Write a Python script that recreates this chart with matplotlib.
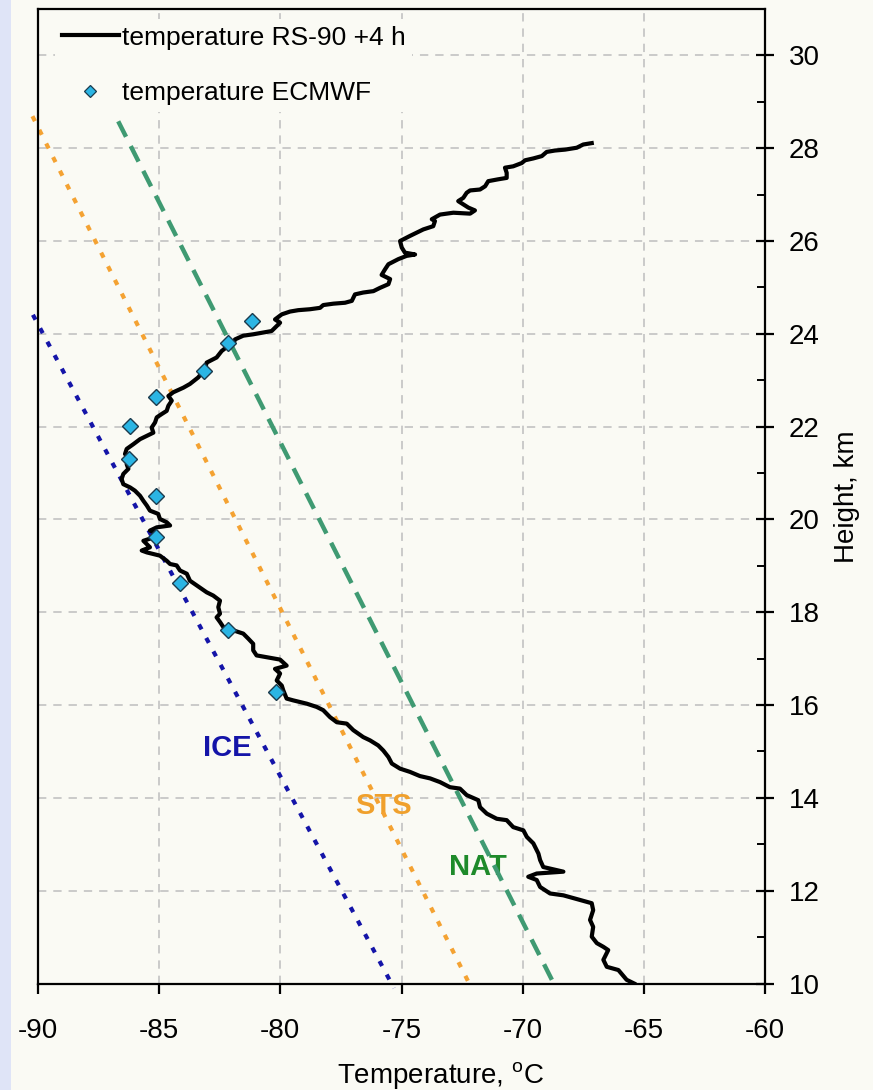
import matplotlib
matplotlib.use("Agg")
import matplotlib.pyplot as plt
from matplotlib.ticker import MultipleLocator
from matplotlib.lines import Line2D
from matplotlib.patches import Rectangle

plt.rcParams['font.family'] = ['Liberation Sans', 'DejaVu Sans']
plt.rcParams['mathtext.default'] = 'regular'
plt.rcParams['lines.scale_dashes'] = False
plt.rcParams['axes.unicode_minus'] = False

# RS-90 radiosonde profile (launch +4 h): temperature in degC, height in km
rs90_temp = [
    -65.40, -65.71, -66.05, -66.53, -66.67, -66.47, -66.67, -66.94, -67.15, -67.09,
    -67.22, -67.09, -67.15, -67.63, -68.32, -68.87, -69.28, -69.42, -69.77, -69.42,
    -68.32, -69.15, -69.28, -69.35, -69.56, -69.83, -69.97, -70.39, -70.66, -71.07,
    -71.48, -71.76, -71.83, -72.31, -72.59, -73.00, -73.41, -73.82, -74.24, -74.65,
    -75.06, -75.40, -75.54, -75.75, -75.96, -76.30, -76.58, -76.99, -77.26, -77.67,
    -77.95, -78.23, -78.50, -78.91, -79.46, -79.74, -79.88, -79.94, -80.15,
    -80.01, -80.22, -79.74, -80.01, -80.56, -80.98, -81.12, -81.12, -81.32, -81.53,
    -81.94, -82.35, -82.49, -82.63, -82.49, -82.56, -82.49, -82.77, -83.04, -83.45,
    -83.73, -83.86, -84.14, -84.28, -84.55, -84.69, -84.97, -85.51, -85.72, -85.38,
    -85.65, -85.24, -85.04, -85.38, -85.10, -84.55, -84.69, -84.97, -85.04, -85.38,
    -85.51, -85.65, -85.79, -86.00, -86.20, -86.48, -86.55, -86.48, -86.27, -86.34,
    -86.20, -86.41, -86.34, -86.07, -85.79, -85.51, -85.24, -85.31, -85.17, -85.10,
    -84.90, -84.69, -84.62, -84.48,
    -84.62, -84.42, -84.00, -83.73, -83.39, -83.11, -83.04, -82.63, -82.42, -82.15,
    -81.94, -81.87, -81.53, -81.12, -80.70, -80.36, -80.15, -80.01, -80.22, -79.94,
    -79.60, -79.26, -78.78, -78.36, -78.23, -77.81, -77.33, -77.05, -76.92, -76.58,
    -76.16, -75.89, -75.54, -75.47, -75.82, -75.68, -75.54, -75.13, -74.79, -74.44,
    -74.86, -74.99, -75.06, -74.65, -74.37, -74.10, -73.69, -73.62, -73.75, -73.41,
    -72.86, -72.17, -71.97, -72.24, -72.45, -72.66, -72.45, -72.31, -72.17, -71.76,
    -71.55, -71.42, -71.01, -70.66, -70.66, -70.73, -70.39, -70.04, -69.90, -69.56,
    -69.21, -69.01, -68.67, -68.25, -67.77, -67.50, -67.15,
]
rs90_height = [
    10.00, 10.08, 10.29, 10.36, 10.51, 10.72, 10.79, 10.87, 11.01, 11.22,
    11.37, 11.58, 11.73, 11.80, 11.90, 11.94, 12.08, 12.23, 12.30, 12.37,
    12.41, 12.51, 12.66, 12.80, 13.02, 13.16, 13.30, 13.37, 13.52, 13.55,
    13.66, 13.80, 13.95, 14.06, 14.20, 14.23, 14.34, 14.42, 14.47, 14.56,
    14.63, 14.74, 14.88, 15.02, 15.13, 15.24, 15.31, 15.46, 15.60, 15.63,
    15.74, 15.89, 15.96, 16.03, 16.10, 16.14, 16.32, 16.42, 16.53,
    16.68, 16.78, 16.85, 16.98, 17.03, 17.07, 17.18, 17.32, 17.43, 17.54,
    17.61, 17.68, 17.79, 17.89, 17.97, 18.11, 18.25, 18.36, 18.43, 18.58,
    18.68, 18.83, 18.90, 19.01, 19.04, 19.11, 19.22, 19.29, 19.33, 19.40,
    19.54, 19.61, 19.69, 19.76, 19.83, 19.87, 19.94, 20.01, 20.12, 20.19,
    20.30, 20.40, 20.51, 20.62, 20.69, 20.76, 20.87, 20.98, 21.09, 21.19,
    21.30, 21.41, 21.52, 21.62, 21.73, 21.80, 21.87, 21.98, 22.09, 22.20,
    22.27, 22.34, 22.45, 22.56,
    22.66, 22.74, 22.84, 22.92, 23.06, 23.24, 23.38, 23.49, 23.63, 23.74,
    23.78, 23.88, 23.96, 23.99, 24.03, 24.06, 24.17, 24.24, 24.31, 24.42,
    24.48, 24.51, 24.53, 24.56, 24.62, 24.65, 24.67, 24.71, 24.85, 24.89,
    24.92, 24.99, 25.07, 25.18, 25.27, 25.39, 25.50, 25.61, 25.68, 25.71,
    25.75, 25.86, 26.00, 26.11, 26.18, 26.25, 26.32, 26.43, 26.47, 26.57,
    26.61, 26.59, 26.66, 26.72, 26.79, 26.86, 26.93, 27.04, 27.09, 27.11,
    27.18, 27.29, 27.33, 27.36, 27.47, 27.58, 27.61, 27.68, 27.74, 27.78,
    27.83, 27.92, 27.95, 27.97, 28.01, 28.08, 28.11,
]

# ECMWF analysis temperatures at model levels
ecmwf_temp = [-81.16, -82.16, -83.14, -85.13, -86.20, -86.23, -85.13, -85.13, -84.14, -82.16, -80.18]
ecmwf_height = [24.28, 23.81, 23.20, 22.63, 22.01, 21.30, 20.51, 19.63, 18.62, 17.61, 16.29]

# PSC existence thresholds (end points of each line)
ice_temp = [-90.21, -75.31]
ice_height = [24.41, 9.90]
sts_temp = [-90.23, -72.09]
sts_height = [28.69, 9.88]
nat_temp = [-86.69, -68.62]
nat_height = [28.58, 9.90]

threshold_labels = ["ICE", "STS", "NAT"]

bg = '#fafaf4'
fig = plt.figure(figsize=(8.73, 10.90), dpi=100, facecolor=bg)
fig.patches.append(Rectangle((0, 0), 11 / 873, 1, transform=fig.transFigure,
                             facecolor='#dfe4f7', edgecolor='none', zorder=-5))
ax = fig.add_axes([38 / 873, 1 - 983.5 / 1090, 727 / 873, 974.5 / 1090], facecolor=bg)

ax.set_xlim(-90, -60)
ax.set_ylim(10, 31)

ax.grid(True, which='major', color='#c6c6c6', linestyle=(0, (6, 5)), linewidth=1.3)
ax.set_axisbelow(True)

ice_col, sts_col, nat_col = '#1414a8', '#f4a232', '#3f9a72'
ax.plot(ice_temp, ice_height, color=ice_col, lw=3.0, linestyle=(0, (4.0, 7.0)),
        clip_on=False, zorder=2)
ax.plot(sts_temp, sts_height, color=sts_col, lw=3.0, linestyle=(0, (4.0, 7.0)),
        clip_on=False, zorder=2)
ax.plot(nat_temp, nat_height, color=nat_col, lw=3.2, linestyle=(0, (12.5, 7.5)),
        clip_on=False, zorder=2)

ax.plot(rs90_temp, rs90_height, color='black', lw=3.0, zorder=3,
        label='temperature RS-90 +4 h')
ax.plot(ecmwf_temp, ecmwf_height, linestyle='none', marker='D', markersize=8,
        markerfacecolor='#2bb5e4', markeredgecolor='#1b3b4d', markeredgewidth=1.0,
        zorder=4, label='temperature ECMWF')

label_style = dict(fontsize=21, fontweight='bold', ha='center', va='center', zorder=1.5)
ax.text(-82.2, 15.07, threshold_labels[0], color='#1414a8', **label_style)
ax.text(-75.75, 13.82, threshold_labels[1], color='#f0a02c', **label_style)
ax.text(-71.85, 12.5, threshold_labels[2], color='#1e8a2a', **label_style)

# axes frame and ticks
for s in ax.spines.values():
    s.set_linewidth(1.6)
    s.set_color('black')

ax.xaxis.set_major_locator(MultipleLocator(5))
ax.yaxis.set_major_locator(MultipleLocator(2))
ax.yaxis.set_minor_locator(MultipleLocator(1))
ax.yaxis.tick_right()
ax.yaxis.set_label_position('right')
ax.tick_params(axis='x', which='major', direction='out', length=7.5, width=1.6,
               pad=17, labelsize=20)
ax.tick_params(axis='y', which='major', direction='inout', length=12.5, width=1.6,
               pad=11, labelsize=20, left=False, right=True)
ax.tick_params(axis='y', which='minor', direction='in', length=5.5, width=1.4,
               left=False, right=True)

ax.set_xlabel(r'Temperature, $^{o}$C', fontsize=20)
ax.xaxis.set_label_coords(0.553, -0.079)
ax.set_ylabel('Height, km', fontsize=20, labelpad=10)

handles = [
    Line2D([], [], color='black', lw=3.0),
    Line2D([], [], linestyle='none', marker='D', markersize=6.5,
           markerfacecolor='#2bb5e4', markeredgecolor='#1b3b4d', markeredgewidth=0.9),
]
leg = ax.legend(handles, ['temperature RS-90 +4 h', 'temperature ECMWF'],
                loc='upper left', bbox_to_anchor=(0.0234, 0.9897),
                fontsize=19, frameon=True, facecolor=bg,
                edgecolor='none', framealpha=1, fancybox=False,
                handlelength=2.16, handletextpad=0.12, labelspacing=1.2,
                borderpad=0.25, borderaxespad=0.0)
leg.set_zorder(5)

fig.savefig('out.png', dpi=100, facecolor=bg)
